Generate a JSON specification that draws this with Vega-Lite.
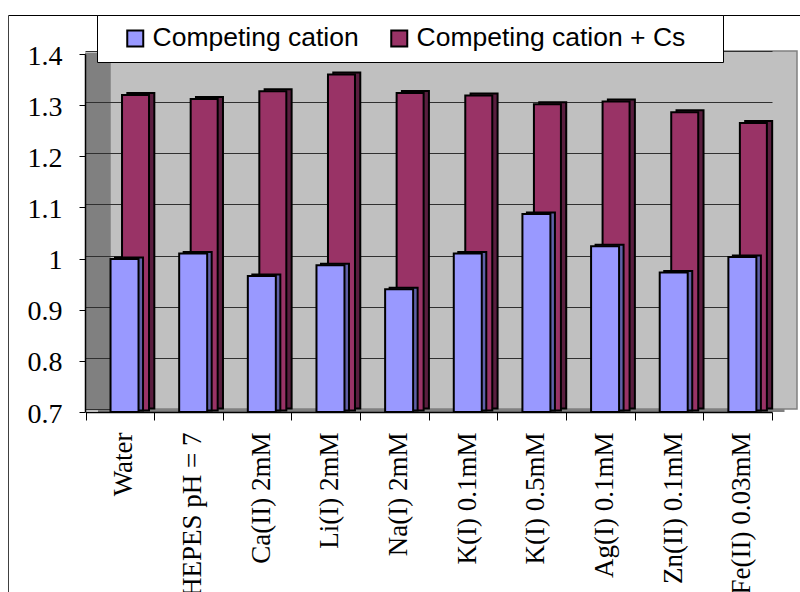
{
  "$schema": "https://vega.github.io/schema/vega-lite/v6.json",
  "width": 687,
  "height": 358,
  "autosize": {"type": "none"},
  "padding": {"left": 110, "top": 51, "right": 3, "bottom": 183},
  "background": "white",
  "config": {
    "view": {"fill": "#c0c0c0", "stroke": "#808080", "strokeWidth": 1.5}
  },
  "data": {
    "values": [
      {"cat": "Water", "series": "Competing cation", "value": 0.999},
      {"cat": "HEPES pH = 7", "series": "Competing cation", "value": 1.010},
      {"cat": "Ca(II) 2mM", "series": "Competing cation", "value": 0.966},
      {"cat": "Li(I) 2mM", "series": "Competing cation", "value": 0.987},
      {"cat": "Na(I) 2mM", "series": "Competing cation", "value": 0.940},
      {"cat": "K(I) 0.1mM", "series": "Competing cation", "value": 1.010},
      {"cat": "K(I) 0.5mM", "series": "Competing cation", "value": 1.087},
      {"cat": "Ag(I) 0.1mM", "series": "Competing cation", "value": 1.024},
      {"cat": "Zn(II) 0.1mM", "series": "Competing cation", "value": 0.973},
      {"cat": "Fe(II) 0.03mM", "series": "Competing cation", "value": 1.003},
      {"cat": "Water", "series": "Competing cation + Cs", "value": 1.317},
      {"cat": "HEPES pH = 7", "series": "Competing cation + Cs", "value": 1.309},
      {"cat": "Ca(II) 2mM", "series": "Competing cation + Cs", "value": 1.324},
      {"cat": "Li(I) 2mM", "series": "Competing cation + Cs", "value": 1.357},
      {"cat": "Na(I) 2mM", "series": "Competing cation + Cs", "value": 1.321},
      {"cat": "K(I) 0.1mM", "series": "Competing cation + Cs", "value": 1.316},
      {"cat": "K(I) 0.5mM", "series": "Competing cation + Cs", "value": 1.299},
      {"cat": "Ag(I) 0.1mM", "series": "Competing cation + Cs", "value": 1.304},
      {"cat": "Zn(II) 0.1mM", "series": "Competing cation + Cs", "value": 1.283},
      {"cat": "Fe(II) 0.03mM", "series": "Competing cation + Cs", "value": 1.262}
    ]
  },
  "resolve": {
    "scale": {"x": "independent", "y": "independent"},
    "axis": {"x": "independent", "y": "independent"}
  },
  "layer": [
    {
      "description": "Outer chart frame (top and left edges)",
      "data": {"values": [{}]},
      "mark": {"type": "point", "opacity": 0},
      "encoding": {
        "x": {
          "datum": 0, "type": "quantitative",
          "scale": {"domain": [0, 1], "range": [-102, 700], "nice": false, "zero": false},
          "axis": {"orient": "top", "offset": 36, "title": null, "labels": false, "ticks": false, "grid": false, "domainColor": "black", "domainWidth": 1, "values": []}
        },
        "y": {
          "datum": 0, "type": "quantitative",
          "scale": {"domain": [0, 1], "range": [560, -36], "nice": false, "zero": false},
          "axis": {"orient": "left", "offset": 102, "title": null, "labels": false, "ticks": false, "grid": false, "domainColor": "#404040", "domainWidth": 1, "values": []}
        }
      }
    },
    {
      "description": "Back series side faces; its axes draw the side wall and floor",
      "transform": [{"filter": "datum.series == 'Competing cation + Cs'"}],
      "mark": {"type": "bar", "width": 27, "xOffset": 21, "yOffset": -0.5, "y2Offset": -0.5, "fill": "#5a1e3f", "stroke": "black", "strokeWidth": 2},
      "encoding": {
        "x": {
          "field": "cat", "type": "nominal",
          "scale": {"domain": ["Water", "HEPES pH = 7", "Ca(II) 2mM", "Li(I) 2mM", "Na(I) 2mM", "K(I) 0.1mM", "K(I) 0.5mM", "Ag(I) 0.1mM", "Zn(II) 0.1mM", "Fe(II) 0.03mM"], "range": [-24.5, 662], "paddingInner": 0, "paddingOuter": 0},
          "axis": {"orient": "bottom", "offset": -11, "translate": 12.5, "title": null, "labels": false, "ticks": false, "grid": false, "domainColor": "#808080", "domainWidth": 3}
        },
        "y": {
          "field": "value", "type": "quantitative",
          "scale": {"domain": [0.7, 1.4], "zero": false, "nice": false},
          "axis": {"orient": "left", "offset": 14, "translate": 1.5, "title": null, "labels": false, "ticks": false, "grid": false, "domainColor": "#808080", "domainWidth": 25, "domainCap": "butt"}
        },
        "y2": {"datum": 0.7}
      }
    },
    {
      "description": "Back series front faces; its axis draws the wall gridlines",
      "transform": [{"filter": "datum.series == 'Competing cation + Cs'"}],
      "mark": {"type": "bar", "width": 27, "xOffset": 15.7, "yOffset": 1.5, "y2Offset": 1.5, "stroke": "black", "strokeWidth": 2},
      "encoding": {
        "x": {
          "field": "cat", "type": "nominal",
          "scale": {"domain": ["Water", "HEPES pH = 7", "Ca(II) 2mM", "Li(I) 2mM", "Na(I) 2mM", "K(I) 0.1mM", "K(I) 0.5mM", "Ag(I) 0.1mM", "Zn(II) 0.1mM", "Fe(II) 0.03mM"], "range": [-24.5, 662], "paddingInner": 0, "paddingOuter": 0},
          "axis": null
        },
        "y": {
          "field": "value", "type": "quantitative",
          "scale": {"domain": [0.7, 1.4], "zero": false, "nice": false},
          "axis": {"orient": "left", "offset": 0, "title": null, "labels": false, "domain": false, "ticks": true, "tickSize": 25, "tickColor": "#303030", "tickWidth": 1, "grid": true, "gridColor": "#303030", "gridWidth": 1, "gridOpacity": 1, "values": [0.7, 0.8, 0.9, 1.0, 1.1, 1.2, 1.3, 1.4]}
        },
        "y2": {"datum": 0.7},
        "color": {
          "field": "series", "type": "nominal",
          "scale": {"domain": ["Competing cation", "Competing cation + Cs"], "range": ["#9999ff", "#993366"]},
          "legend": {
            "orient": "none", "legendX": -13, "legendY": -36, "direction": "horizontal",
            "title": null, "fillColor": "white", "strokeColor": "black", "padding": 10,
            "symbolType": "square", "symbolSize": 256, "symbolStrokeColor": "black", "symbolStrokeWidth": 2, "symbolOpacity": 1,
            "symbolOffset": 15, "labelOffset": 4, "columnPadding": 12,
            "labelExpr": "indexof(datum.value, '+') >= 0 ? datum.label + '\u00a0\u2800' : datum.label",
            "labelFont": "Liberation Sans", "labelFontSize": 26.5, "labelColor": "black", "labelLimit": 400
          }
        }
      }
    },
    {
      "description": "Front series side faces; its axes are the front value and category axes",
      "transform": [{"filter": "datum.series == 'Competing cation'"}],
      "mark": {"type": "bar", "width": 28, "xOffset": 9.2, "yOffset": 1.5, "y2Offset": 1.5, "fill": "#6060a8", "stroke": "black", "strokeWidth": 2},
      "encoding": {
        "x": {
          "field": "cat", "type": "nominal",
          "scale": {"domain": ["Water", "HEPES pH = 7", "Ca(II) 2mM", "Li(I) 2mM", "Na(I) 2mM", "K(I) 0.1mM", "K(I) 0.5mM", "Ag(I) 0.1mM", "Zn(II) 0.1mM", "Fe(II) 0.03mM"], "range": [-24.5, 662], "paddingInner": 0, "paddingOuter": 0},
          "axis": {
            "orient": "bottom", "offset": 3, "title": null, "grid": false,
            "domainColor": "black", "domainWidth": 1.5,
            "ticks": true, "tickBand": "extent", "tickSize": 8, "tickColor": "black", "tickWidth": 1,
            "labelAngle": 270, "labelAlign": "right", "labelBaseline": "middle", "labelPadding": 12, "labelOffset": 4,
            "labelFont": "Liberation Serif", "labelFontSize": 27, "labelColor": "black",
            "labelLimit": 0, "labelOverlap": false, "labelBound": false, "labelFlush": false
          }
        },
        "y": {
          "field": "value", "type": "quantitative",
          "scale": {"domain": [0.7, 1.4], "zero": false, "nice": false},
          "axis": {
            "orient": "left", "offset": 28, "translate": 3.5, "title": null, "grid": false,
            "domainColor": "black", "domainWidth": 1.5,
            "ticks": true, "tickSize": 6, "tickColor": "black", "tickWidth": 1,
            "values": [0.7, 0.8, 0.9, 1.0, 1.1, 1.2, 1.3, 1.4], "format": "~g",
            "labelFont": "Liberation Serif", "labelFontSize": 28, "labelColor": "black", "labelPadding": 17, "labelOffset": 2,
            "labelOverlap": false, "labelBound": false, "labelFlush": false
          }
        },
        "y2": {"datum": 0.7}
      }
    },
    {
      "description": "Front series front faces",
      "transform": [{"filter": "datum.series == 'Competing cation'"}],
      "mark": {"type": "bar", "width": 28, "xOffset": 4.7, "yOffset": 3, "y2Offset": 3, "stroke": "black", "strokeWidth": 2},
      "encoding": {
        "x": {
          "field": "cat", "type": "nominal",
          "scale": {"domain": ["Water", "HEPES pH = 7", "Ca(II) 2mM", "Li(I) 2mM", "Na(I) 2mM", "K(I) 0.1mM", "K(I) 0.5mM", "Ag(I) 0.1mM", "Zn(II) 0.1mM", "Fe(II) 0.03mM"], "range": [-24.5, 662], "paddingInner": 0, "paddingOuter": 0},
          "axis": null
        },
        "y": {
          "field": "value", "type": "quantitative",
          "scale": {"domain": [0.7, 1.4], "zero": false, "nice": false},
          "axis": null
        },
        "y2": {"datum": 0.7},
        "color": {
          "field": "series", "type": "nominal",
          "scale": {"domain": ["Competing cation", "Competing cation + Cs"], "range": ["#9999ff", "#993366"]},
          "legend": null
        }
      }
    }
  ]
}
